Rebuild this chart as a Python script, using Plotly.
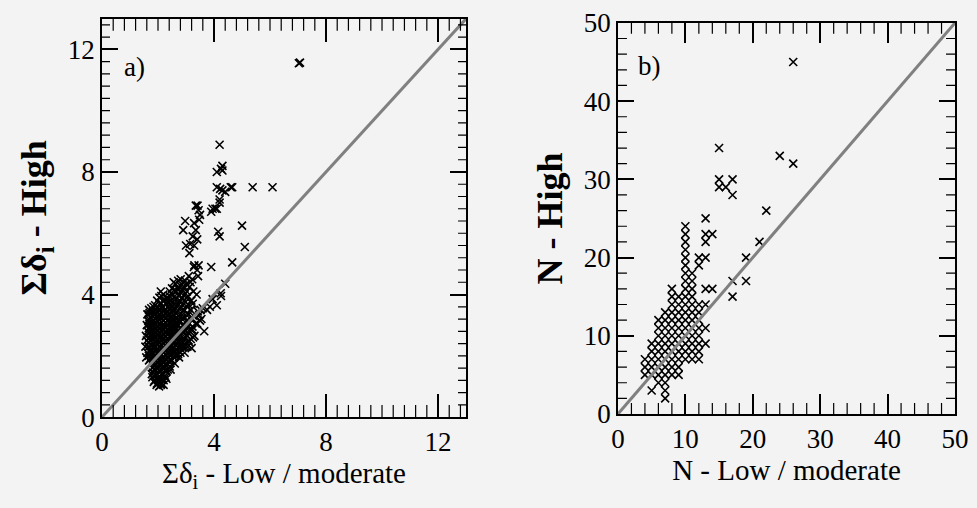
import plotly.graph_objects as go

# ---------------- Panel a data (sum of delta_i) ----------------
a_x = [
    1.58, 1.62, 1.55, 1.60, 1.57, 1.63, 1.60, 1.65, 1.62,
    1.75, 1.72, 1.78, 1.74, 1.76, 1.73, 1.77, 1.75, 1.72, 1.78, 1.74, 1.70, 1.76,
    1.88, 1.92, 1.86, 1.90, 1.93, 1.89, 1.91, 1.87, 1.92, 1.90, 1.88, 1.93, 1.89, 1.91, 1.87, 1.92, 1.90,
    2.04, 2.07, 2.02, 2.06, 2.03, 2.05, 2.08, 2.02, 2.06, 2.04, 2.07, 2.03, 2.05, 2.08, 2.02, 2.06, 2.04, 2.07, 2.05, 2.10,
    2.20, 2.17, 2.22, 2.19, 2.21, 2.18, 2.23, 2.20, 2.17, 2.22, 2.19, 2.21, 2.18, 2.23, 2.20, 2.17, 2.22, 2.19,
    2.35, 2.33, 2.37, 2.34, 2.36, 2.32, 2.38, 2.35, 2.33, 2.37, 2.34, 2.36, 2.32, 2.38, 2.35, 2.33,
    2.50, 2.48, 2.52, 2.49, 2.51, 2.47, 2.53, 2.50, 2.48, 2.52, 2.49, 2.51, 2.47, 2.53, 2.50,
    2.65, 2.63, 2.67, 2.64, 2.66, 2.62, 2.68, 2.65, 2.63, 2.67, 2.64, 2.66, 2.62,
    2.80, 2.78, 2.82, 2.79, 2.81, 2.77, 2.83, 2.80, 2.78, 2.82, 2.79, 2.81,
    2.95, 2.93, 2.97, 2.94, 2.96, 2.92, 2.98, 2.95, 2.93, 2.97,
    3.10, 3.08, 3.12, 3.09, 3.11, 3.07, 3.13, 3.10,
    3.25, 3.23, 3.27, 3.24, 3.26, 3.22, 3.28,
    3.40, 3.42, 3.38, 3.43, 3.55, 3.52,
    1.68, 1.67, 1.69, 1.68, 1.66, 1.69, 1.68, 1.67, 1.69, 1.68, 1.66, 1.68,
    1.83, 1.82, 1.84, 1.83, 1.81, 1.84, 1.83, 1.82, 1.84, 1.83, 1.81, 1.84, 1.83, 1.82, 1.84,
    1.97, 1.98, 1.96, 1.97, 1.99, 1.96, 1.97, 1.98, 1.96, 1.97, 1.99, 1.96, 1.97, 1.98, 1.96, 1.97, 1.99, 1.97,
    2.12, 2.13, 2.11, 2.12, 2.14, 2.11, 2.12, 2.13, 2.11, 2.12, 2.14, 2.11, 2.12, 2.13, 2.11, 2.12, 2.14, 2.11, 2.12,
    2.27, 2.28, 2.26, 2.27, 2.29, 2.26, 2.27, 2.28, 2.26, 2.27, 2.29, 2.26, 2.27, 2.28, 2.26, 2.27, 2.29,
    2.42, 2.43, 2.41, 2.42, 2.44, 2.41, 2.42, 2.43, 2.41, 2.42, 2.44, 2.41, 2.42, 2.43, 2.41, 2.42,
    2.57, 2.58, 2.56, 2.57, 2.59, 2.56, 2.57, 2.58, 2.56, 2.57, 2.59, 2.56, 2.57, 2.58, 2.56,
    2.72, 2.73, 2.71, 2.72, 2.74, 2.71, 2.72, 2.73, 2.71, 2.72, 2.74, 2.71, 2.72,
    2.87, 2.88, 2.86, 2.87, 2.89, 2.86, 2.87, 2.88, 2.86, 2.87, 2.89,
    3.02, 3.03, 3.01, 3.02, 3.04, 3.01, 3.02, 3.03, 3.01,
    3.17, 3.18, 3.16, 3.17, 3.19, 3.16,
    1.80, 1.85, 1.95, 2.10, 2.15, 2.25, 2.30,
    3.10, 3.23, 2.87, 2.60, 2.40, 2.15, 2.00, 1.78,
    2.45, 2.60, 2.75, 2.95, 3.05, 3.20, 3.30, 2.30, 2.20, 3.35, 3.50,
    3.47, 3.65, 3.75, 3.85, 3.60, 3.95, 4.10, 4.25, 4.24, 4.40,
    3.30, 3.45, 3.40, 3.90, 4.65, 5.10, 5.00, 4.15, 4.20,
    3.29, 3.47, 3.35, 3.24, 3.40, 3.29, 3.00, 3.12, 2.97, 2.90, 3.15,
    3.41, 3.50, 3.35, 3.45, 3.95, 4.05, 4.10, 3.90,
    4.20, 4.20, 4.22, 4.10, 4.30, 4.30, 4.25, 4.40,
    4.10, 4.30, 4.60, 4.65, 5.38, 6.09,
    4.20, 7.03, 7.07,
]
a_y = [
    1.95, 2.10, 2.30, 2.50, 2.65, 2.80, 3.00, 3.15, 3.35,
    1.75, 1.90, 2.05, 2.20, 2.35, 2.50, 2.65, 2.80, 2.95, 3.10, 3.25, 3.40, 3.55,
    1.20, 1.35, 1.55, 1.70, 1.85, 2.00, 2.15, 2.30, 2.45, 2.60, 2.75, 2.90, 3.05, 3.20, 3.35, 3.50, 3.65,
    1.00, 1.15, 1.30, 1.50, 1.70, 1.85, 2.00, 2.15, 2.30, 2.45, 2.60, 2.75, 2.90, 3.05, 3.20, 3.35, 3.50, 3.70, 3.90, 4.10,
    1.20, 1.40, 1.60, 1.80, 1.95, 2.10, 2.25, 2.40, 2.55, 2.70, 2.85, 3.00, 3.15, 3.30, 3.45, 3.60, 3.80, 4.00,
    1.55, 1.75, 1.95, 2.10, 2.25, 2.40, 2.55, 2.70, 2.85, 3.00, 3.15, 3.30, 3.45, 3.60, 3.75, 3.90,
    1.85, 2.05, 2.20, 2.35, 2.50, 2.65, 2.80, 2.95, 3.10, 3.25, 3.40, 3.60, 3.80, 4.00, 4.20,
    2.00, 2.20, 2.40, 2.60, 2.75, 2.90, 3.05, 3.20, 3.40, 3.60, 3.85, 4.10, 4.35,
    2.10, 2.30, 2.50, 2.70, 2.90, 3.10, 3.30, 3.55, 3.80, 4.05, 4.30, 4.50,
    2.30, 2.55, 2.80, 3.00, 3.25, 3.50, 3.75, 4.00, 4.25, 4.45,
    2.45, 2.75, 3.05, 3.35, 3.65, 3.95, 4.25, 4.60,
    2.60, 2.95, 3.30, 3.70, 4.10, 4.50, 4.90,
    3.05, 3.45, 4.00, 4.60, 3.20, 3.50,
    1.85, 2.00, 2.15, 2.30, 2.45, 2.60, 2.75, 2.90, 3.05, 3.20, 3.35, 3.50,
    1.45, 1.62, 1.80, 1.95, 2.10, 2.25, 2.40, 2.55, 2.70, 2.85, 3.00, 3.15, 3.30, 3.45, 3.60,
    1.10, 1.25, 1.42, 1.60, 1.78, 1.92, 2.08, 2.22, 2.38, 2.52, 2.68, 2.82, 2.98, 3.12, 3.28, 3.42, 3.58, 3.80,
    1.08, 1.22, 1.38, 1.55, 1.72, 1.90, 2.05, 2.20, 2.35, 2.50, 2.65, 2.80, 2.95, 3.10, 3.25, 3.40, 3.55, 3.72, 3.95,
    1.30, 1.50, 1.70, 1.88, 2.02, 2.18, 2.32, 2.48, 2.62, 2.78, 2.92, 3.08, 3.22, 3.38, 3.52, 3.70, 3.88,
    1.65, 1.85, 2.02, 2.18, 2.32, 2.48, 2.62, 2.78, 2.92, 3.08, 3.22, 3.38, 3.52, 3.70, 3.95, 4.10,
    1.95, 2.12, 2.28, 2.42, 2.58, 2.72, 2.88, 3.02, 3.18, 3.32, 3.50, 3.70, 3.92, 4.15, 4.40,
    2.05, 2.25, 2.45, 2.65, 2.82, 2.98, 3.15, 3.30, 3.48, 3.70, 3.95, 4.20, 4.45,
    2.30, 2.45, 2.62, 2.80, 3.00, 3.20, 3.42, 3.65, 3.90, 4.15, 4.38,
    2.40, 2.65, 2.90, 3.15, 3.40, 3.62, 3.88, 4.10, 4.35,
    2.55, 2.85, 3.20, 3.50, 3.80, 4.40,
    1.30, 1.15, 1.05, 1.05, 1.25, 1.35, 1.50,
    2.50, 2.85, 2.30, 2.00, 1.80, 1.60, 1.20, 1.40,
    1.55, 1.75, 1.95, 2.10, 2.30, 2.25, 2.65, 1.25, 1.05, 3.05, 3.15,
    3.33, 2.80, 3.50, 3.60, 3.55, 3.85, 3.65, 3.95, 4.04, 4.35,
    4.95, 4.95, 4.80, 4.90, 5.05, 5.55, 6.25, 6.05, 5.90,
    6.33, 6.44, 6.10, 5.90, 5.80, 5.60, 5.60, 5.35, 6.40, 6.10, 5.65,
    6.90, 6.60, 6.90, 6.75, 6.80, 6.80, 6.80, 6.70,
    7.10, 7.00, 7.45, 8.00, 8.20, 8.05, 8.10, 7.35,
    7.50, 7.40, 7.50, 7.50, 7.50, 7.50,
    8.89, 11.55, 11.57,
]

# ---------------- Panel b data (N) ----------------
b_x = [
    4, 4, 4,
    5, 5, 5, 5, 5, 5,
    6, 6, 6, 6, 6, 6, 6, 6, 6,
    7, 7, 7, 7, 7, 7, 7, 7, 7, 7, 7, 7,
    8, 8, 8, 8, 8, 8, 8, 8, 8, 8, 8, 8,
    9, 9, 9, 9, 9, 9, 9, 9, 9, 9, 9,
    10, 10, 10, 10, 10, 10, 10, 10, 10, 10, 10, 10, 10, 10, 10, 10, 10, 10,
    11, 11, 11, 11, 11, 11, 11, 11, 11, 11, 11, 11,
    12, 12, 12, 12, 12, 12, 12, 12, 12, 12,
    13, 13, 13, 13, 13, 13, 13, 13,
    14, 14,
    15, 15, 15,
    16,
    17, 17, 17, 17,
    19, 19,
    21, 22, 24,
    26, 26,
]
b_y = [
    5, 6, 7,
    3, 5, 6, 7, 8, 9,
    4, 5, 6, 7, 8, 9, 10, 11, 12,
    2, 3, 4, 5, 6, 7, 8, 9, 10, 11, 12, 13,
    5, 6, 7, 8, 9, 10, 11, 12, 13, 14, 15, 16,
    5, 6, 7, 8, 9, 10, 11, 12, 13, 14, 15,
    7, 8, 9, 10, 11, 12, 13, 14, 15, 16, 17, 18, 19, 20, 21, 22, 23, 24,
    7, 8, 9, 10, 11, 13, 14, 15, 16, 17, 18, 12,
    7, 8, 9, 10, 11, 13, 14, 19, 20, 12,
    9, 11, 14, 16, 20, 22, 23, 25,
    16, 23,
    29, 30, 34,
    29,
    15, 17, 28, 30,
    17, 20,
    22, 26, 33,
    32, 45,
]

a_range = [0, 13]
b_range = [0, 50]
a_major, a_minor = 4, 0.4
b_major, b_minor = 10, 2

SERIF = "Liberation Serif"
BG = "#f3f3f3"

A_XDOM, A_YDOM = [0.1044, 0.477], [0.179, 0.963]
B_XDOM, B_YDOM = [0.6325, 0.9775], [0.185, 0.955]

fig = go.Figure()

marker = dict(symbol="x-thin", size=8, color="black", line=dict(color="black", width=1.6))

fig.add_trace(go.Scatter(x=a_x, y=a_y, mode="markers", marker=marker,
                         xaxis="x", yaxis="y", showlegend=False))
fig.add_trace(go.Scatter(x=a_range, y=a_range, mode="lines",
                         line=dict(color="#808080", width=3),
                         xaxis="x", yaxis="y", showlegend=False))
fig.add_trace(go.Scatter(x=b_x, y=b_y, mode="markers", marker=marker,
                         xaxis="x2", yaxis="y2", showlegend=False))
fig.add_trace(go.Scatter(x=b_range, y=b_range, mode="lines",
                         line=dict(color="#808080", width=3),
                         xaxis="x2", yaxis="y2", showlegend=False))


def ax(rng, dtick, tl, domain, anchor, title, tsize, standoff):
    return dict(
        range=rng, domain=domain, anchor=anchor, dtick=dtick,
        ticks="inside", ticklen=tl, tickwidth=1.5, tickcolor="black",
        showline=True, linecolor="black", linewidth=1.5, mirror="ticks",
        showgrid=False, zerolinecolor="black", zerolinewidth=1.5,
        automargin=False,
        tickfont=dict(family=SERIF, size=27, color="black"),
        title=dict(text=title, font=dict(family=SERIF, size=tsize, color="black"),
                   standoff=standoff),
    )


# minor tick marks: short inside ticks on all four sides, placed with the axes' own scales
def minor_ticks(rng, step, xr, yr, xlen, ylen):
    shapes = []
    n = int(round((rng[1] - rng[0]) / step))
    vals = [round(rng[0] + i * step, 6) for i in range(1, n + 1) if rng[0] + i * step < rng[1]]
    tick_line = dict(color="black", width=1.2)
    for v in vals:
        # bottom and top
        for anchor, length in ((rng[0], xlen), (rng[1], -xlen)):
            shapes.append(dict(type="line", xref=xr, yref=yr, x0=v, x1=v,
                               ysizemode="pixel", yanchor=anchor, y0=0, y1=length,
                               line=tick_line, layer="above"))
        # left and right
        for anchor, length in ((rng[0], ylen), (rng[1], -ylen)):
            shapes.append(dict(type="line", xref=xr, yref=yr, y0=v, y1=v,
                               xsizemode="pixel", xanchor=anchor, x0=0, x1=length,
                               line=tick_line, layer="above"))
    return shapes


shapes = minor_ticks(a_range, a_minor, "x", "y", 12, 8) + \
    minor_ticks(b_range, b_minor, "x2", "y2", 11, 9)

fig.update_layout(
    width=977, height=508,
    margin=dict(l=0, r=0, t=0, b=0, autoexpand=False),
    paper_bgcolor=BG, plot_bgcolor=BG,
    xaxis=ax(a_range, a_major, 23, A_XDOM, "y",
             "Σδ<sub>i</sub> - Low / moderate", 29, 6),
    yaxis=ax(a_range, a_major, 16, A_YDOM, "x",
             "<b>Σδ<sub>i</sub> - High</b>", 36, 10),
    xaxis2=ax(b_range, b_major, 20, B_XDOM, "y2",
              "N - Low / moderate", 29, 6),
    yaxis2=ax(b_range, b_major, 16, B_YDOM, "x2",
              "<b>N - High</b>", 36, 10),
    shapes=shapes,
    annotations=[
        dict(text="a)", xref="x domain", yref="y domain", x=0.055, y=0.88,
             xanchor="left", yanchor="middle", showarrow=False,
             font=dict(family=SERIF, size=27, color="black")),
        dict(text="b)", xref="x2 domain", yref="y2 domain", x=0.055, y=0.89,
             xanchor="left", yanchor="middle", showarrow=False,
             font=dict(family=SERIF, size=27, color="black")),
    ],
)

fig.write_html("out.html")
